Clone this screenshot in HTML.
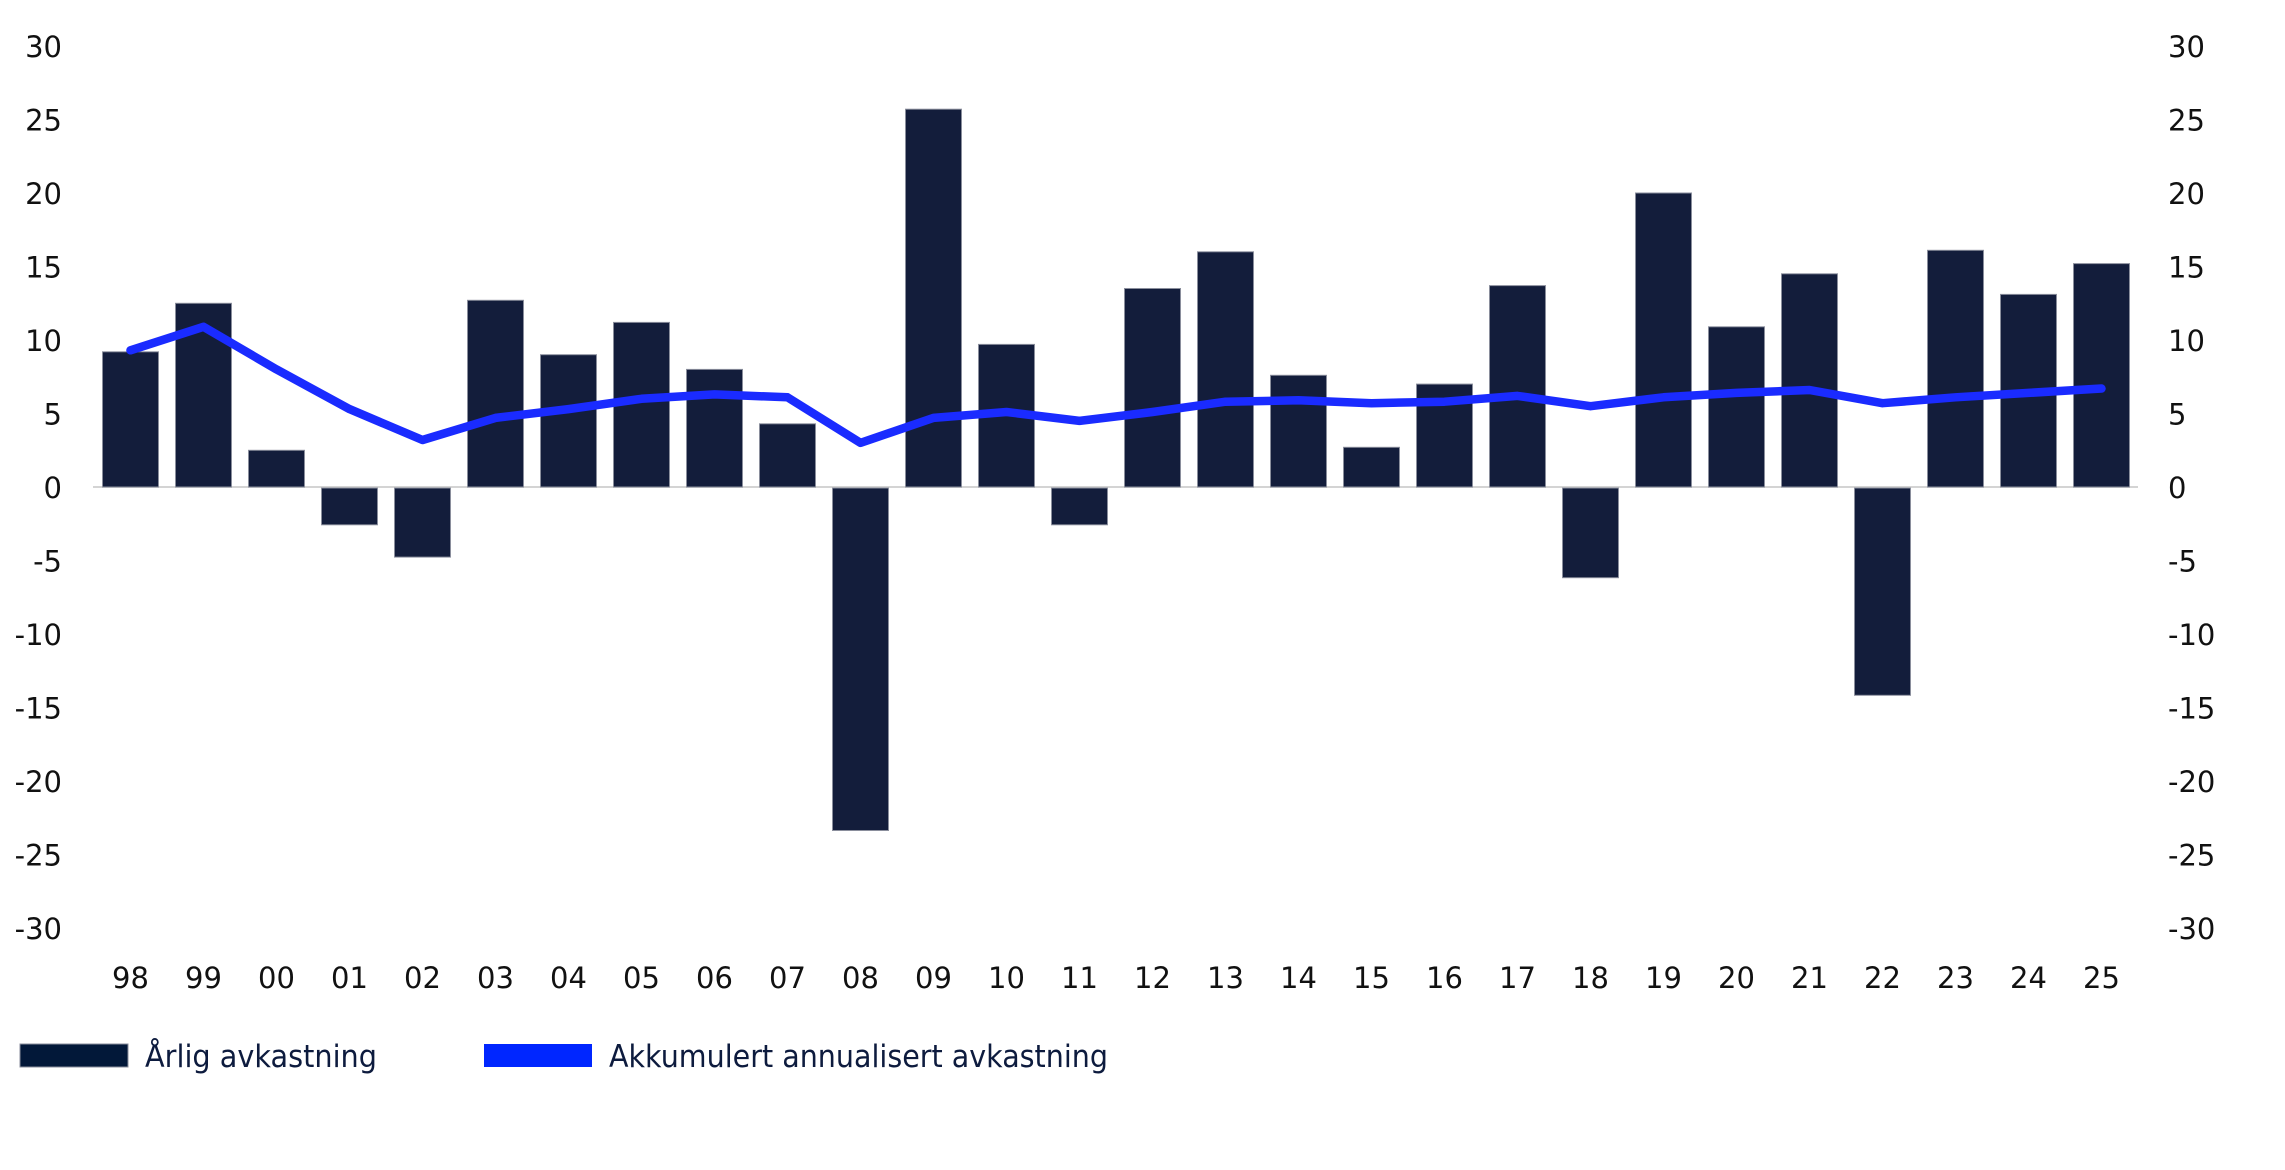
<!DOCTYPE html>
<html><head><meta charset="utf-8"><style>
html,body{margin:0;padding:0;background:#fff;}
svg{display:block;}
text{font-family:"DejaVu Sans","Liberation Sans",sans-serif;}
</style></head><body>
<svg width="2285" height="1170" viewBox="0 0 2285 1170" xmlns="http://www.w3.org/2000/svg">
<rect width="2285" height="1170" fill="#fff"/>
<g font-size="29" fill="#111">
<g text-anchor="end">
<text x="62" y="57">30</text><text x="62" y="130.5">25</text><text x="62" y="204">20</text><text x="62" y="277.5">15</text><text x="62" y="351">10</text><text x="62" y="424.5">5</text><text x="62" y="498">0</text><text x="62" y="571.5">-5</text><text x="62" y="645">-10</text><text x="62" y="718.5">-15</text><text x="62" y="792">-20</text><text x="62" y="865.5">-25</text><text x="62" y="939">-30</text>
</g>
<g text-anchor="start">
<text x="2168" y="57">30</text><text x="2168" y="130.5">25</text><text x="2168" y="204">20</text><text x="2168" y="277.5">15</text><text x="2168" y="351">10</text><text x="2168" y="424.5">5</text><text x="2168" y="498">0</text><text x="2168" y="571.5">-5</text><text x="2168" y="645">-10</text><text x="2168" y="718.5">-15</text><text x="2168" y="792">-20</text><text x="2168" y="865.5">-25</text><text x="2168" y="939">-30</text>
</g>
<g text-anchor="middle">
<text x="130.5" y="988">98</text><text x="203.5" y="988">99</text><text x="276.5" y="988">00</text><text x="349.5" y="988">01</text><text x="422.5" y="988">02</text><text x="495.5" y="988">03</text><text x="568.5" y="988">04</text><text x="641.5" y="988">05</text><text x="714.5" y="988">06</text><text x="787.5" y="988">07</text><text x="860.5" y="988">08</text><text x="933.5" y="988">09</text><text x="1006.5" y="988">10</text><text x="1079.5" y="988">11</text><text x="1152.5" y="988">12</text><text x="1225.5" y="988">13</text><text x="1298.5" y="988">14</text><text x="1371.5" y="988">15</text><text x="1444.5" y="988">16</text><text x="1517.5" y="988">17</text><text x="1590.5" y="988">18</text><text x="1663.5" y="988">19</text><text x="1736.5" y="988">20</text><text x="1809.5" y="988">21</text><text x="1882.5" y="988">22</text><text x="1955.5" y="988">23</text><text x="2028.5" y="988">24</text><text x="2101.5" y="988">25</text>
</g>
</g>
<line x1="93" y1="487" x2="2138" y2="487" stroke="#d4d4d4" stroke-width="2"/>
<g fill="#131d3b" stroke="#8a8e9c" stroke-width="1">
<rect x="102.5" y="351.8" width="56" height="135.2"/>
<rect x="175.5" y="303.3" width="56" height="183.7"/>
<rect x="248.5" y="450.3" width="56" height="36.7"/>
<rect x="321.5" y="488" width="56" height="36.8"/>
<rect x="394.5" y="488" width="56" height="69.1"/>
<rect x="467.5" y="300.3" width="56" height="186.7"/>
<rect x="540.5" y="354.7" width="56" height="132.3"/>
<rect x="613.5" y="322.4" width="56" height="164.6"/>
<rect x="686.5" y="369.4" width="56" height="117.6"/>
<rect x="759.5" y="423.8" width="56" height="63.2"/>
<rect x="832.5" y="488" width="56" height="342.5"/>
<rect x="905.5" y="109.2" width="56" height="377.8"/>
<rect x="978.5" y="344.4" width="56" height="142.6"/>
<rect x="1051.5" y="488" width="56" height="36.8"/>
<rect x="1124.5" y="288.5" width="56" height="198.5"/>
<rect x="1197.5" y="251.8" width="56" height="235.2"/>
<rect x="1270.5" y="375.3" width="56" height="111.7"/>
<rect x="1343.5" y="447.3" width="56" height="39.7"/>
<rect x="1416.5" y="384.1" width="56" height="102.9"/>
<rect x="1489.5" y="285.6" width="56" height="201.4"/>
<rect x="1562.5" y="488" width="56" height="89.7"/>
<rect x="1635.5" y="193" width="56" height="294"/>
<rect x="1708.5" y="326.8" width="56" height="160.2"/>
<rect x="1781.5" y="273.8" width="56" height="213.2"/>
<rect x="1854.5" y="488" width="56" height="207.3"/>
<rect x="1927.5" y="250.3" width="56" height="236.7"/>
<rect x="2000.5" y="294.4" width="56" height="192.6"/>
<rect x="2073.5" y="263.6" width="56" height="223.4"/>
</g>
<polyline fill="none" stroke="#1a2bff" stroke-width="8.5" stroke-linecap="round" stroke-linejoin="round" points="130.5,350.3 203.5,326.8 276.5,369.4 349.5,409.1 422.5,440 495.5,417.9 568.5,409.1 641.5,398.8 714.5,394.4 787.5,397.3 860.5,442.9 933.5,417.9 1006.5,412 1079.5,420.9 1152.5,412 1225.5,401.7 1298.5,400.3 1371.5,403.2 1444.5,401.7 1517.5,395.9 1590.5,406.2 1663.5,397.3 1736.5,392.9 1809.5,390 1882.5,403.2 1955.5,397.3 2028.5,392.9 2101.5,388.5"/>
<rect x="20" y="1044" width="108" height="23" fill="#021839" stroke="#8a8e9c" stroke-width="1"/>
<text x="145" y="1067" font-size="31" fill="#0d1b3e" textLength="232" lengthAdjust="spacingAndGlyphs">Årlig avkastning</text>
<rect x="484" y="1044" width="108" height="23" fill="#0026ff"/>
<text x="609" y="1067" font-size="31" fill="#0d1b3e" textLength="499" lengthAdjust="spacingAndGlyphs">Akkumulert annualisert avkastning</text>
</svg>
</body></html>
